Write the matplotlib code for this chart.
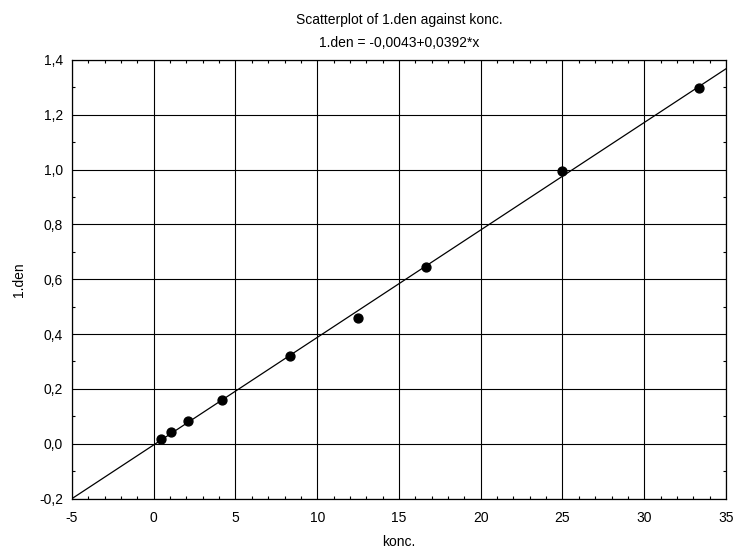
import matplotlib
matplotlib.use("Agg")
import matplotlib.pyplot as plt
import numpy as np
from matplotlib.ticker import MultipleLocator, FuncFormatter

plt.rcParams['font.family'] = ['Liberation Sans', 'DejaVu Sans']
plt.rcParams['axes.unicode_minus'] = False

konc = [0.42, 1.04, 2.08, 4.17, 8.33, 12.5, 16.67, 25.0, 33.33]
den = [0.016, 0.042, 0.081, 0.160, 0.320, 0.457, 0.646, 0.996, 1.296]
b0 = -0.0043
b1 = 0.0392

fig = plt.figure(figsize=(7.4, 5.5), dpi=100)
ax = fig.add_axes([0.0973, 0.0936, 0.8837, 0.7974])

xs = np.array([-5, 35])
ax.plot(xs, b0 + b1 * xs, color='black', lw=0.9, zorder=3)
ax.plot(konc, den, 'o', color='black', markersize=6.4, zorder=4)

ax.set_xlim(-5, 35)
ax.set_ylim(-0.2, 1.4)
ax.xaxis.set_major_locator(MultipleLocator(5))
ax.xaxis.set_minor_locator(MultipleLocator(1))
ax.yaxis.set_major_locator(MultipleLocator(0.2))
ax.yaxis.set_minor_locator(MultipleLocator(0.1))
ax.yaxis.set_major_formatter(FuncFormatter(lambda v, p: ("%.1f" % v).replace('.', ',').replace('-0,0', '0,0')))
ax.tick_params(which='both', direction='in', top=True, right=True, labelsize=10, width=0.8)
ax.tick_params(which='major', length=0)
ax.tick_params(which='minor', length=2.5)
ax.tick_params(axis='x', which='major', pad=9)
ax.tick_params(axis='y', which='major', pad=6.5)
ax.grid(True, which='major', color='black', lw=0.8)
for s in ax.spines.values():
    s.set_linewidth(0.9)

ax.set_xlabel("konc.", fontsize=10, labelpad=7)
ax.set_ylabel("1.den", fontsize=10, labelpad=9)
fig.text(0.54, 1 - 20 / 550, "Scatterplot of 1.den against konc.", fontsize=10, ha='center', va='center')
fig.text(0.54, 1 - 43 / 550, "1.den = -0,0043+0,0392*x", fontsize=10, ha='center', va='center')

fig.savefig("out.png", dpi=100)
